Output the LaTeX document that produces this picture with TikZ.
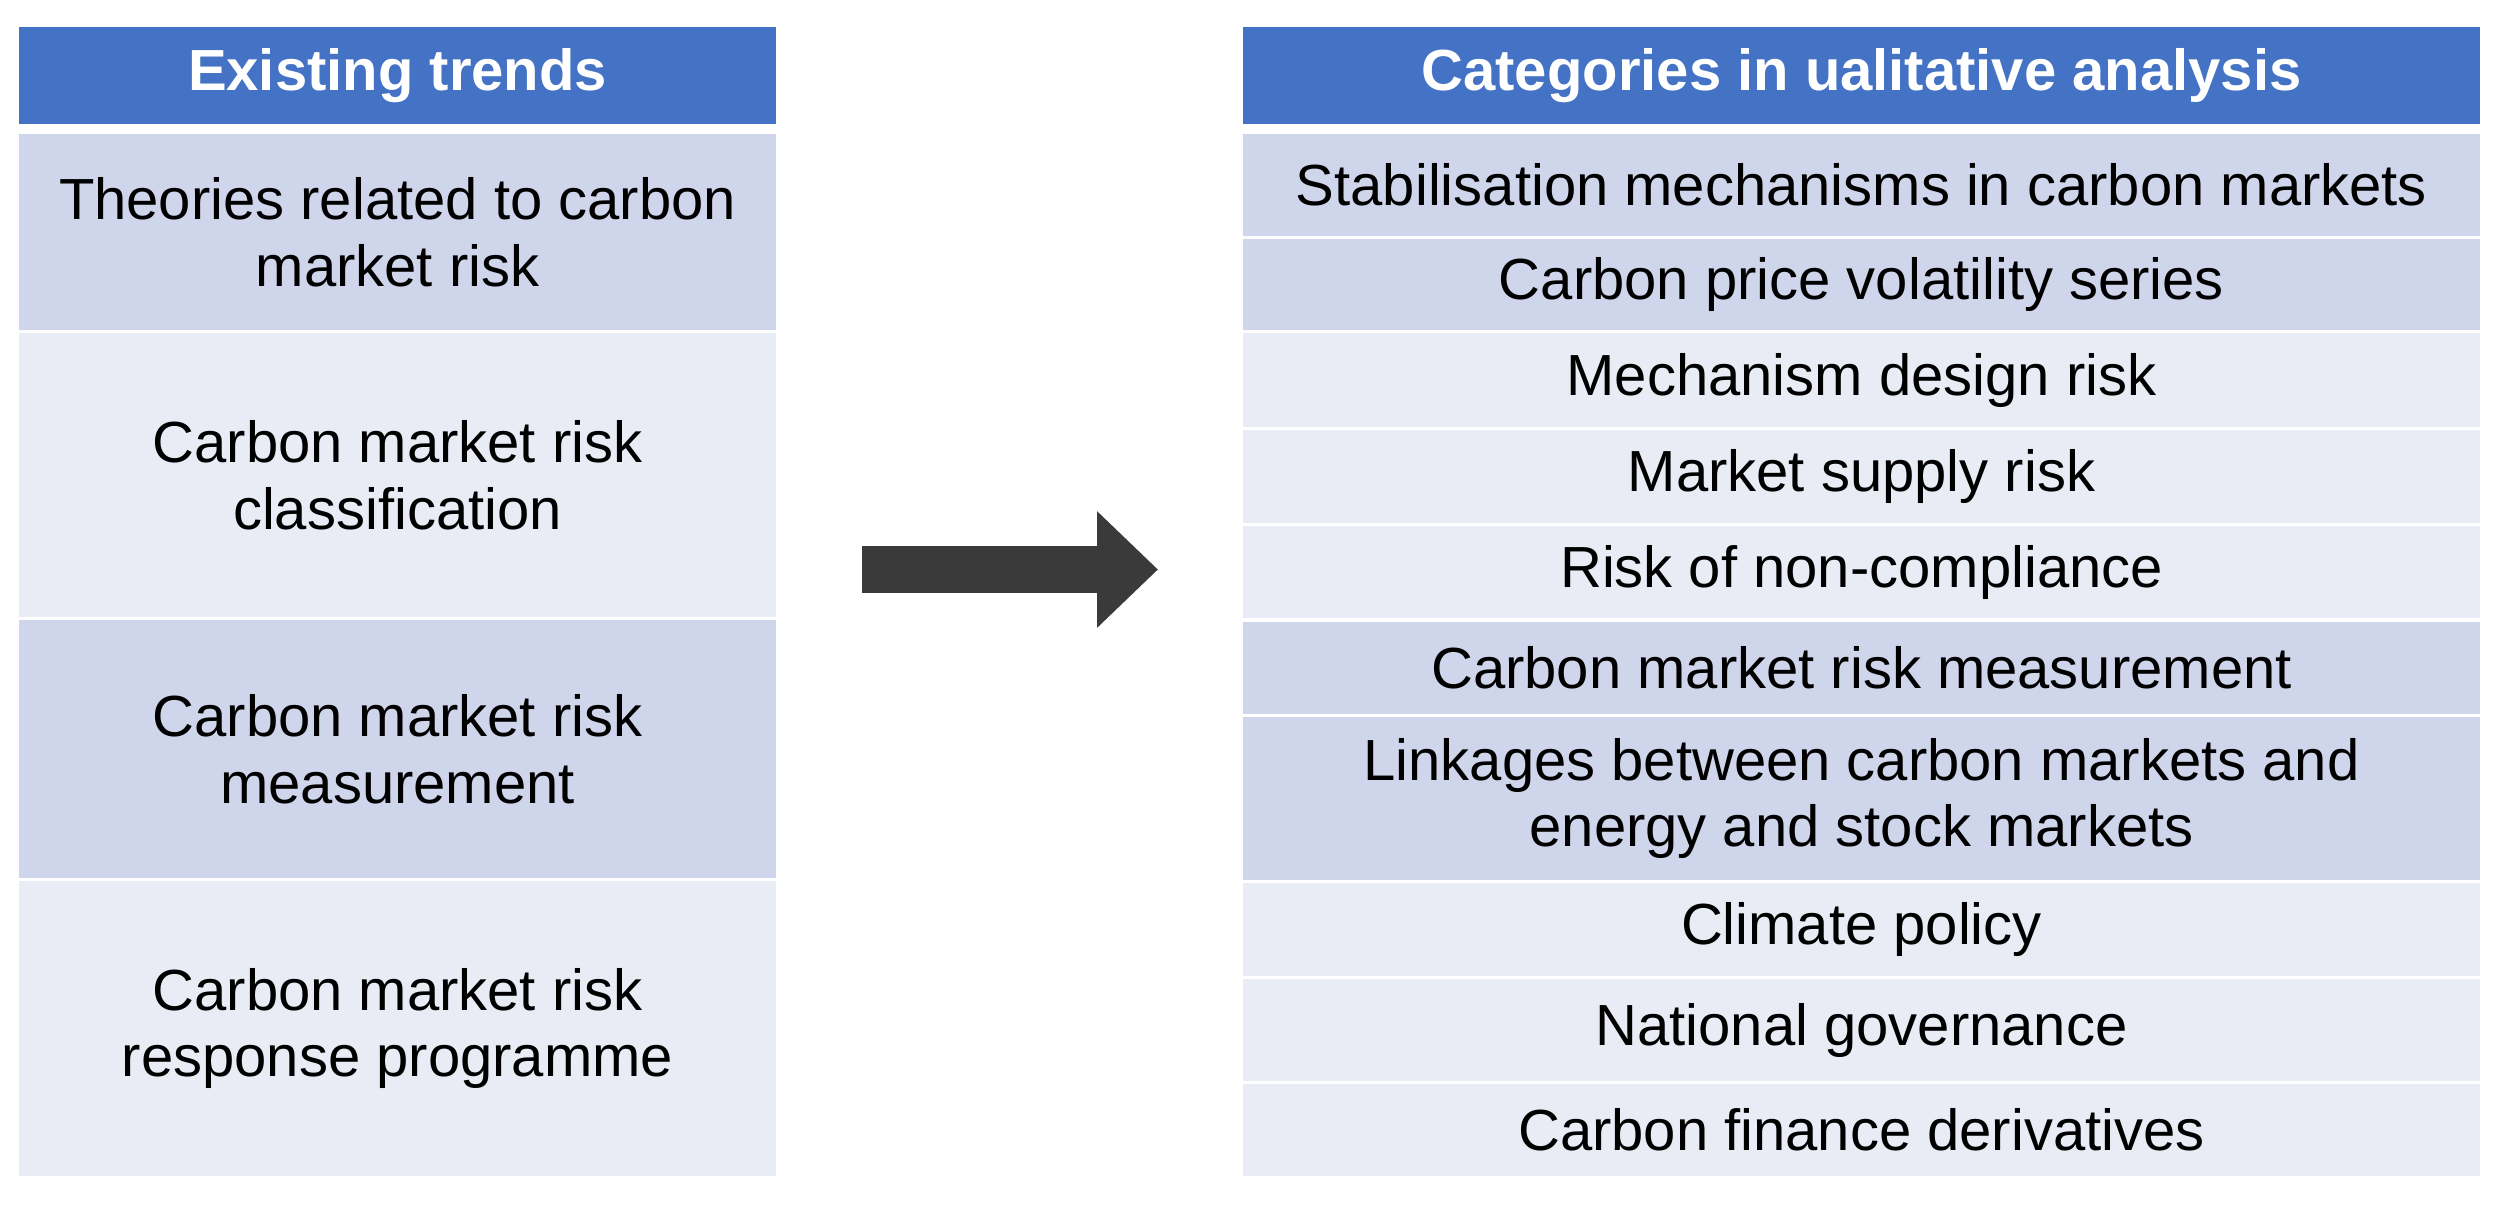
\documentclass[tikz,border=0pt]{standalone}
\usepackage{fontspec}
\setmainfont{Liberation Sans}
\usetikzlibrary{positioning,arrows.meta}
\definecolor{headblue}{HTML}{4472C4}
\definecolor{rowdark}{HTML}{CFD5EA}
\definecolor{rowlight}{HTML}{E9EBF5}
\definecolor{arrowgrey}{HTML}{3A3A3A}
\begin{document}
\begin{tikzpicture}[node distance=0.03cm, font=\fontsize{16.5}{19}\selectfont]
  \tikzstyle{header} = [rectangle, fill=headblue, text=white, font=\fontsize{16.5}{19}\selectfont\bfseries, inner sep=0pt, outer sep=0pt, minimum height=0.97cm]
  \tikzstyle{darkrow} = [rectangle, fill=rowdark, align=center, inner sep=0pt, outer sep=0pt]
  \tikzstyle{lightrow} = [rectangle, fill=rowlight, align=center, inner sep=0pt, outer sep=0pt]
  \tikzstyle{lcol} = [minimum width=7.57cm]
  \tikzstyle{rcol} = [minimum width=12.37cm]

  \useasboundingbox (0,0) rectangle (24.99,-12.17);

  \node [header, lcol] (lhead) at (3.975,-0.755) {Existing trends};
  \node [darkrow, lcol, minimum height=1.96cm, below=0.10cm of lhead] (ltheory) {Theories related to carbon\\market risk};
  \node [lightrow, lcol, minimum height=2.84cm, below=of ltheory] (lclass) {Carbon market risk\\classification};
  \node [darkrow, lcol, minimum height=2.58cm, below=of lclass] (lmeasure) {Carbon market risk\\measurement};
  \node [lightrow, lcol, minimum height=2.95cm, below=of lmeasure] (lresponse) {Carbon market risk\\response programme};

  \node [header, rcol] (rhead) at (18.615,-0.755) {Categories in ualitative analysis};
  \node [darkrow, rcol, minimum height=1.02cm, below=0.10cm of rhead] (rstab) {Stabilisation mechanisms in carbon markets};
  \node [darkrow, rcol, minimum height=0.91cm, below=of rstab] (rvol) {Carbon price volatility series};
  \node [lightrow, rcol, minimum height=0.94cm, below=of rvol] (rdesign) {Mechanism design risk};
  \node [lightrow, rcol, minimum height=0.93cm, below=of rdesign] (rsupply) {Market supply risk};
  \node [lightrow, rcol, minimum height=0.92cm, below=of rsupply] (rcomply) {Risk of non-compliance};
  \node [darkrow, rcol, minimum height=0.92cm, below=0.04cm of rcomply] (rmeasure) {Carbon market risk measurement};
  \node [darkrow, rcol, minimum height=1.63cm, below=of rmeasure] (rlink) {Linkages between carbon markets and\\energy and stock markets};
  \node [lightrow, rcol, minimum height=0.93cm, below=of rlink] (rclimate) {Climate policy};
  \node [lightrow, rcol, minimum height=1.02cm, below=of rclimate] (rgov) {National governance};
  \node [lightrow, rcol, minimum height=0.92cm, below=of rgov] (rderiv) {Carbon finance derivatives};

  \coordinate (arrstart) at (8.62,-5.695);
  \coordinate (arrend) at (11.58,-5.695);
  \draw [line width=0.47cm, arrowgrey, -{Triangle[length=0.61cm, width=1.13cm]}] (arrstart) -- (arrend);
\end{tikzpicture}
\end{document}
